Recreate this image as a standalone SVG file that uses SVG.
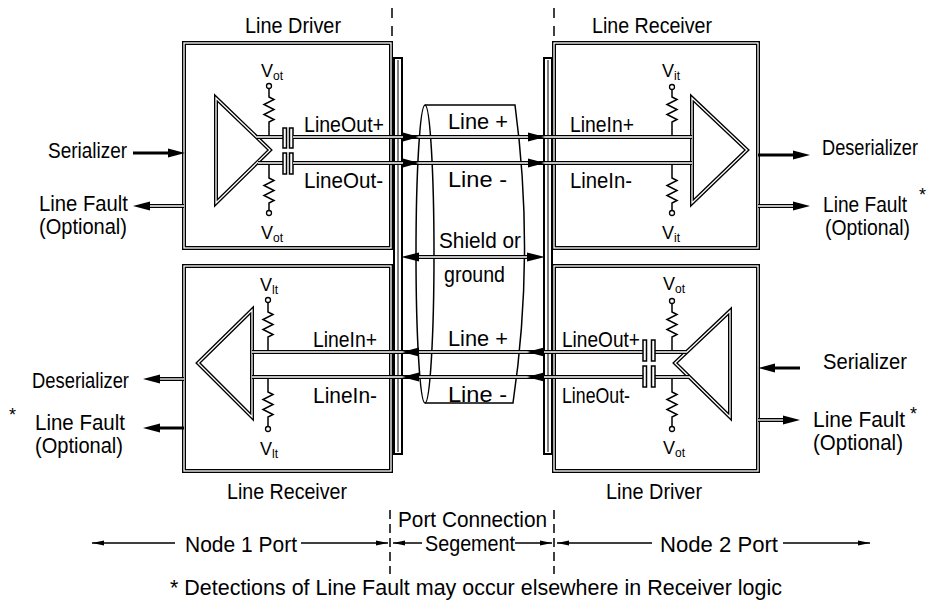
<svg xmlns="http://www.w3.org/2000/svg" width="934" height="604" viewBox="0 0 934 604">
<style>
 .bo{fill:none;stroke:#000;stroke-width:4}
 .bi{fill:none;stroke:#fff;stroke-width:1.3}
 .ln{fill:none;stroke:#000;stroke-width:1.5}
 .th{fill:none;stroke:#000;stroke-width:3}
 .dim{fill:none;stroke:#000;stroke-width:1.3}
 .dash{fill:none;stroke:#000;stroke-width:1.5;stroke-dasharray:10 8}
 .ah{fill:#000;stroke:none}
 .cap{fill:#fff;stroke:#000;stroke-width:1.5}
 .term{fill:#fff;stroke:#000;stroke-width:1.3}
 .bar{fill:#fff;stroke:#000;stroke-width:2}
 .barl{fill:none;stroke:#000;stroke-width:1}
 text{font-family:"Liberation Sans Narrow","Liberation Sans",Arial,sans-serif;font-size:21.5px;fill:#000}
 .v{font-size:18px}
 .sub{font-size:12px}
 .ast{font-size:18px}
 .e{text-anchor:end}
</style>
<rect width="934" height="604" fill="#fff"/>

<!-- section dashed lines -->
<g id="section-lines">
 <path class="dash" d="M392,8 V42"/>
 <path class="dash" d="M554,8 V42"/>
 <path class="dash" d="M390,510 V574" style="stroke-dasharray:9 5"/>
 <path class="dash" d="M554,510 V574" style="stroke-dasharray:9 5"/>
</g>

<!-- Node 1 Line Driver -->
<g id="node1-driver">
 <rect class="bo" x="184" y="43" width="207" height="205"/>
 <rect class="bi" x="184" y="43" width="207" height="205"/>
 <polygon class="bo" points="216,98 216,203 270,150"/>
 <polygon class="bi" points="216,98 216,203 270,150"/>
 <path class="ln" d="M269,88.5 V97 l5,2.5 l-10,5 l10,5 l-10,5 l10,5 l-5,2.5 V137"/>
 <circle class="term" cx="269" cy="86" r="2.5"/>
 <path class="ln" d="M269,163 V178 l5,2.5 l-10,5 l10,5 l-10,5 l10,5 l-5,2.5 V210.5"/>
 <circle class="term" cx="269" cy="213" r="2.5"/>
 <text x="245" y="33" textLength="96" lengthAdjust="spacingAndGlyphs">Line Driver</text>
 <text class="v" x="261" y="77">V</text><text class="sub" x="273" y="80">ot</text>
 <text class="v" x="261" y="239">V</text><text class="sub" x="273" y="242">ot</text>
 <text x="304" y="132" textLength="80" lengthAdjust="spacingAndGlyphs">LineOut+</text>
 <text x="304" y="188" textLength="79" lengthAdjust="spacingAndGlyphs">LineOut-</text>
</g>

<!-- Node 1 Line Receiver -->
<g id="node1-receiver">
 <rect class="bo" x="184" y="266" width="207" height="205"/>
 <rect class="bi" x="184" y="266" width="207" height="205"/>
 <polygon class="bo" points="252,310 252,417 198,363"/>
 <polygon class="bi" points="252,310 252,417 198,363"/>
 <path class="ln" d="M268,302.5 V312 l5,2.5 l-10,5 l10,5 l-10,5 l10,5 l-5,2.5 V352"/>
 <circle class="term" cx="268" cy="300" r="2.5"/>
 <path class="ln" d="M268,377 V392 l5,2.5 l-10,5 l10,5 l-10,5 l10,5 l-5,2.5 V426.5"/>
 <circle class="term" cx="268" cy="429" r="2.5"/>
 <text class="v" x="260" y="291">V</text><text class="sub" x="272" y="294">lt</text>
 <text class="v" x="260" y="455">V</text><text class="sub" x="272" y="458">lt</text>
 <text x="313" y="347" textLength="64" lengthAdjust="spacingAndGlyphs">LineIn+</text>
 <text x="313" y="403" textLength="64" lengthAdjust="spacingAndGlyphs">LineIn-</text>
 <text x="227" y="499" textLength="120" lengthAdjust="spacingAndGlyphs">Line Receiver</text>
</g>

<!-- Node 2 Line Receiver -->
<g id="node2-receiver">
 <rect class="bo" x="554" y="43" width="204" height="205"/>
 <rect class="bi" x="554" y="43" width="204" height="205"/>
 <polygon class="bo" points="692,98 692,203 747,150"/>
 <polygon class="bi" points="692,98 692,203 747,150"/>
 <path class="ln" d="M672,89.5 V97 l5,2.5 l-10,5 l10,5 l-10,5 l10,5 l-5,2.5 V137"/>
 <circle class="term" cx="672" cy="87" r="2.5"/>
 <path class="ln" d="M672,163 V178 l5,2.5 l-10,5 l10,5 l-10,5 l10,5 l-5,2.5 V210.5"/>
 <circle class="term" cx="672" cy="213" r="2.5"/>
 <text x="592" y="33" textLength="120" lengthAdjust="spacingAndGlyphs">Line Receiver</text>
 <text class="v" x="662" y="77">V</text><text class="sub" x="674" y="80">it</text>
 <text class="v" x="662" y="239">V</text><text class="sub" x="674" y="242">it</text>
 <text x="570" y="132" textLength="64" lengthAdjust="spacingAndGlyphs">LineIn+</text>
 <text x="570" y="188" textLength="62" lengthAdjust="spacingAndGlyphs">LineIn-</text>
</g>

<!-- Node 2 Line Driver -->
<g id="node2-driver">
 <rect class="bo" x="554" y="266" width="204" height="205"/>
 <rect class="bi" x="554" y="266" width="204" height="205"/>
 <polygon class="bo" points="730,311 730,417 675,363"/>
 <polygon class="bi" points="730,311 730,417 675,363"/>
 <path class="ln" d="M672,303.5 V312 l5,2.5 l-10,5 l10,5 l-10,5 l10,5 l-5,2.5 V352"/>
 <circle class="term" cx="672" cy="301" r="2.5"/>
 <path class="ln" d="M672,377 V392 l5,2.5 l-10,5 l10,5 l-10,5 l10,5 l-5,2.5 V426.5"/>
 <circle class="term" cx="672" cy="429" r="2.5"/>
 <text class="v" x="663" y="290">V</text><text class="sub" x="675" y="293">ot</text>
 <text class="v" x="663" y="454">V</text><text class="sub" x="675" y="457">ot</text>
 <text x="562" y="347" textLength="78" lengthAdjust="spacingAndGlyphs">LineOut+</text>
 <text x="562" y="403" textLength="68" lengthAdjust="spacingAndGlyphs">LineOut-</text>
 <text x="606" y="499" textLength="96" lengthAdjust="spacingAndGlyphs">Line Driver</text>
</g>

<!-- Port connection segment: cable end plates and cable -->
<g id="cable">
 <rect class="bar" x="394" y="58" width="8" height="396"/>
 <path class="barl" d="M398,60 V452"/>
 <rect class="bar" x="544" y="58" width="8" height="396"/>
 <path class="barl" d="M548,60 V452"/>
 <ellipse class="ln" cx="425" cy="254" rx="9" ry="149"/>
 <path class="ln" d="M425,105 H515 Q535,254 513,403 H425"/>
 <text x="448" y="129" textLength="60" lengthAdjust="spacingAndGlyphs">Line +</text>
 <text x="448" y="187" textLength="59" lengthAdjust="spacingAndGlyphs">Line -</text>
 <text x="439" y="248" textLength="82" lengthAdjust="spacingAndGlyphs">Shield or</text>
 <text x="444" y="282" textLength="61" lengthAdjust="spacingAndGlyphs">ground</text>
 <text x="448" y="346" textLength="60" lengthAdjust="spacingAndGlyphs">Line +</text>
 <text x="448" y="402" textLength="59" lengthAdjust="spacingAndGlyphs">Line -</text>
</g>

<!-- Connectors -->
<g id="connectors">
 <path class="bo" d="M256,137 H283 M258,163 H283"/>
 <path class="bi" d="M256,137 H283 M258,163 H283"/>
 <rect class="cap" x="283" y="128" width="3.5" height="20"/>
 <rect class="cap" x="289.5" y="128" width="3.5" height="20"/>
 <rect class="cap" x="283" y="153" width="3.5" height="21"/>
 <rect class="cap" x="289.5" y="153" width="3.5" height="21"/>
 <path class="bo" d="M293,137 H692 M293,163 H692"/>
 <path class="bi" d="M293,137 H692 M293,163 H692"/>
 <polygon class="ah" points="403,132.5 419,137 403,141.5"/>
 <polygon class="ah" points="528,132.5 545,137 528,141.5"/>
 <polygon class="ah" points="403,158.5 419,163 403,167.5"/>
 <polygon class="ah" points="528,158.5 545,163 528,167.5"/>
 <path class="bo" d="M252,352 H643 M252,377 H643 M655,352 H687 M655,377 H689"/>
 <path class="bi" d="M252,352 H643 M252,377 H643 M655,352 H687 M655,377 H689"/>
 <rect class="cap" x="643" y="340" width="3.5" height="21"/>
 <rect class="cap" x="651.5" y="340" width="3.5" height="21"/>
 <rect class="cap" x="643" y="366" width="3.5" height="21"/>
 <rect class="cap" x="651.5" y="366" width="3.5" height="21"/>
 <polygon class="ah" points="419,347.5 402,352 419,356.5"/>
 <polygon class="ah" points="544,347.5 527,352 544,356.5"/>
 <polygon class="ah" points="419,372.5 402,377 419,381.5"/>
 <polygon class="ah" points="544,372.5 527,377 544,381.5"/>
 <path class="bo" d="M417,257 H529"/>
 <path class="bi" d="M417,257 H529"/>
 <polygon class="ah" points="419,252.5 401,257 419,261.5"/>
 <polygon class="ah" points="527,252.5 545,257 527,261.5"/>
 <path class="th" d="M133,153 H170"/>
 <polygon class="ah" points="168,148.5 185,153 168,157.5"/>
 <path class="bo" d="M184,206 H148"/>
 <path class="bi" d="M184,206 H148"/>
 <polygon class="ah" points="150,201.5 133,206 150,210.5"/>
 <path class="bo" d="M184,379 H158"/>
 <path class="bi" d="M184,379 H158"/>
 <polygon class="ah" points="160,374.5 143,379 160,383.5"/>
 <path class="th" d="M184,428 H158"/>
 <polygon class="ah" points="160,423.5 143,428 160,432.5"/>
 <path class="th" d="M758,155 H795"/>
 <polygon class="ah" points="793,150.5 810,155 793,159.5"/>
 <path class="bo" d="M758,206 H795"/>
 <path class="bi" d="M758,206 H795"/>
 <polygon class="ah" points="793,201.5 810,206 793,210.5"/>
 <path class="th" d="M800,368 H772"/>
 <polygon class="ah" points="775,363.5 758,368 775,372.5"/>
 <path class="bo" d="M758,420 H786"/>
 <path class="bi" d="M758,420 H786"/>
 <polygon class="ah" points="783,415.5 800,420 783,424.5"/>
 <path class="dim" d="M92,543 H175 M301,543 H388 M393,543 H422 M515,543 H552 M557,543 H652 M783,543 H870"/>
 <polygon class="ah" points="104,540.5 92,543 104,545.5"/>
 <polygon class="ah" points="376,540.5 388,543 376,545.5"/>
 <polygon class="ah" points="405,540.5 393,543 405,545.5"/>
 <polygon class="ah" points="540,540.5 552,543 540,545.5"/>
 <polygon class="ah" points="569,540.5 557,543 569,545.5"/>
 <polygon class="ah" points="858,540.5 870,543 858,545.5"/>
</g>

<!-- External labels -->
<g id="labels">
 <text class="e" x="127" y="158" textLength="79" lengthAdjust="spacingAndGlyphs">Serializer</text>
 <text class="e" x="128" y="211" textLength="89" lengthAdjust="spacingAndGlyphs">Line Fault</text>
 <text class="e" x="127" y="234" textLength="88" lengthAdjust="spacingAndGlyphs">(Optional)</text>
 <text class="e" x="129" y="388" textLength="97" lengthAdjust="spacingAndGlyphs">Deserializer</text>
 <text class="ast" x="9" y="421">*</text>
 <text x="35" y="430" textLength="90" lengthAdjust="spacingAndGlyphs">Line Fault</text>
 <text x="35" y="453" textLength="88" lengthAdjust="spacingAndGlyphs">(Optional)</text>
 <text class="e" x="918" y="155" textLength="96" lengthAdjust="spacingAndGlyphs">Deserializer</text>
 <text class="e" x="907" y="212" textLength="84" lengthAdjust="spacingAndGlyphs">Line Fault</text>
 <text class="ast" x="919" y="201">*</text>
 <text class="e" x="910" y="235" textLength="85" lengthAdjust="spacingAndGlyphs">(Optional)</text>
 <text class="e" x="907" y="369" textLength="84" lengthAdjust="spacingAndGlyphs">Serializer</text>
 <text class="e" x="905" y="427" textLength="92" lengthAdjust="spacingAndGlyphs">Line Fault</text>
 <text class="ast" x="910" y="420">*</text>
 <text class="e" x="903" y="450" textLength="90" lengthAdjust="spacingAndGlyphs">(Optional)</text>
</g>

<!-- Port extent labels and footnote -->
<g id="footer">
 <text x="185" y="552" textLength="112" lengthAdjust="spacingAndGlyphs">Node 1 Port</text>
 <text x="398" y="527" textLength="149" lengthAdjust="spacingAndGlyphs">Port Connection</text>
 <text x="425" y="551" textLength="90" lengthAdjust="spacingAndGlyphs">Segement</text>
 <text x="660" y="552" textLength="118" lengthAdjust="spacingAndGlyphs">Node 2 Port</text>
 <text x="170" y="595" textLength="612" lengthAdjust="spacingAndGlyphs">* Detections of Line Fault may occur elsewhere in Receiver logic</text>
</g>
</svg>
